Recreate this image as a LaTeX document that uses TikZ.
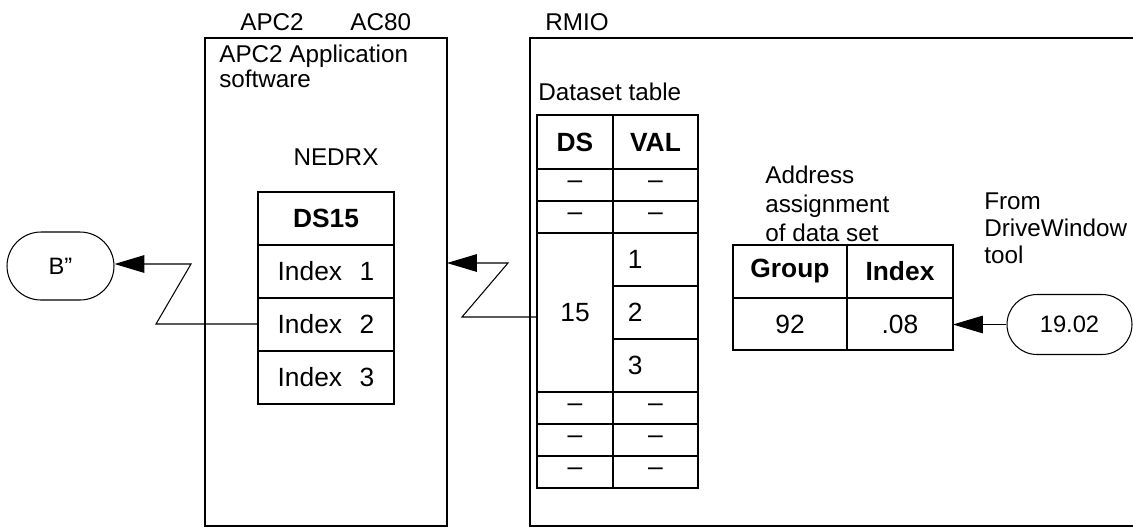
\documentclass[tikz,border=0pt]{standalone}
\usepackage{fontspec}
\setmainfont{Liberation Sans}
\usetikzlibrary{positioning, shapes.misc, arrows.meta}
\tikzstyle{box}=[draw, line width=1.1pt, inner sep=0pt, outer sep=0pt]
\tikzstyle{cell}=[box, font=\fontsize{15}{17}\selectfont]
\tikzstyle{head}=[cell, font=\fontsize{15}{17}\selectfont\bfseries]
\tikzstyle{capsule}=[draw, rounded rectangle, line width=0.6pt, inner sep=0pt,
  font=\fontsize{13.5}{15}\selectfont]
\tikzstyle{txt}=[inner sep=0pt, anchor=west, align=left]
\tikzstyle{link}=[line width=0.6pt]
\tikzstyle{arrow}=[link, -{Triangle[length=17pt, width=10pt]}]

\begin{document}
\begin{tikzpicture}[x=0.02cm, y=-0.02cm]
  \clip (0,0) rectangle (1133,529);

  % outer boxes
  \node[box, minimum width=4.84cm, minimum height=9.76cm] (apc) at (326,282) {};
  \node[box, minimum width=12.6cm, minimum height=9.76cm] (rmio) at (845,282) {};

  \node[txt, font=\fontsize{13.8}{14}\selectfont] (apcTop) at (240,22) {APC2};
  \node[txt, font=\fontsize{13.8}{14}\selectfont] (acTop) at (350,22) {AC80};
  \node[txt, font=\fontsize{13.8}{14}\selectfont] (rmioTop) at (545,22) {RMIO};
  \node[txt, font=\fontsize{13.8}{14}\selectfont] (apcSw) at (219,66.5) {APC2 Application\\software};
  \node[font=\fontsize{13.8}{14}\selectfont, inner sep=0pt] (nedrx) at (336,157) {NEDRX};
  \node[txt, font=\fontsize{13.8}{14}\selectfont] (dsTable) at (538,92) {Dataset table};
  \node[txt, font=\fontsize{13.8}{16.4}\selectfont] (addr) at (765,204) {Address\\assignment\\of data set};
  \node[txt, font=\fontsize{13.8}{15.5}\selectfont] (from) at (984,228) {From\\DriveWindow\\tool};

  % DS15 table
  \node[head, minimum width=2.72cm, minimum height=1.06cm] (ds15) at (326,218.5) {DS15};
  \node[cell, minimum width=2.72cm, minimum height=1.06cm, below=0pt of ds15] (idx1) {Index\hspace{10pt}1};
  \node[cell, minimum width=2.72cm, minimum height=1.06cm, below=0pt of idx1] (idx2) {Index\hspace{10pt}2};
  \node[cell, minimum width=2.72cm, minimum height=1.06cm, below=0pt of idx2] (idx3) {Index\hspace{10pt}3};

  % dataset table
  \node[head, minimum width=1.52cm, minimum height=1.08cm] (dsHead) at (575,142) {DS};
  \node[head, minimum width=1.7cm, minimum height=1.08cm, right=0pt of dsHead] (valHead) {VAL};
  \foreach \r/\y in {a/185, b/217, c/408, d/440, e/472} {
    \node[cell, minimum width=1.52cm, minimum height=0.64cm] (ds\r) at (575,\y) {–};
    \node[cell, minimum width=1.7cm, minimum height=0.64cm, right=0pt of ds\r] (val\r) {–};
  }
  \node[cell, minimum width=1.52cm, minimum height=3.18cm] (dsBig) at (575,312.5) {15};
  \node[cell, minimum width=1.7cm, minimum height=1.06cm, text width=1.1cm, align=left,
    anchor=north west] (val1) at (dsBig.north east) {1};
  \node[cell, minimum width=1.7cm, minimum height=1.06cm, text width=1.1cm, align=left,
    below=0pt of val1] (val2) {2};
  \node[cell, minimum width=1.7cm, minimum height=1.06cm, text width=1.1cm, align=left,
    below=0pt of val2] (val3) {3};

  % address table
  \node[head, minimum width=2.28cm, minimum height=1.06cm] (grpHead) at (790,271.5) {Group};
  \node[head, minimum width=2.12cm, minimum height=1.06cm, right=0pt of grpHead] (idxHead) {Index};
  \node[cell, minimum width=2.28cm, minimum height=1.04cm, below=0pt of grpHead] (grpVal) {92};
  \node[cell, minimum width=2.12cm, minimum height=1.04cm, below=0pt of idxHead] (idxVal) {.08};

  % end points
  \node[capsule, minimum width=2.14cm, minimum height=1.36cm] (bq) at (60.5,266) {B”};
  \node[capsule, minimum width=2.5cm, minimum height=1.2cm] (dw) at (1069.5,324.5) {19.02};

  % connectors
  \coordinate (lz1) at (156,324);
  \coordinate (lz2) at (191,264);
  \coordinate (rz1) at (462,317);
  \coordinate (rz2) at (508,263);
  \draw[arrow] (idx2.west |- lz1) -- (lz1) -- (lz2) -- (bq.east |- lz2);
  \draw[arrow] (dsBig.west |- rz1) -- (rz1) -- (rz2) -- (apc.east |- rz2);
  \draw[arrow] (dw.west) -- (dw.west -| idxVal.east);
\end{tikzpicture}
\end{document}
